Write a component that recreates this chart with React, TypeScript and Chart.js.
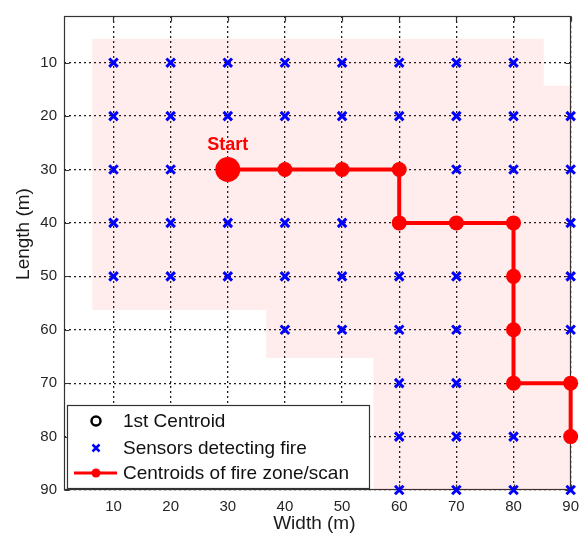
import { useEffect, useRef } from "react";
import { Chart, registerables } from "chart.js";

Chart.register(...registerables);

// ---- data ----
const tickValues = [10, 20, 30, 40, 50, 60, 70, 80, 90];
const xRange = [1.34, 90];
const yRange = [1.26, 90];

// Sensors detecting fire: one row per y value, with the x values in that row
const sensorRowY = [10, 20, 30, 40, 50, 60, 70, 80, 90];
const sensorRowX = [
  [10, 20, 30, 40, 50, 60, 70, 80],
  [10, 20, 30, 40, 50, 60, 70, 80, 90],
  [10, 20, 30, 40, 50, 60, 70, 80, 90],
  [10, 20, 30, 40, 50, 60, 70, 80, 90],
  [10, 20, 30, 40, 50, 60, 70, 80, 90],
  [40, 50, 60, 70, 80, 90],
  [60, 70, 80, 90],
  [60, 70, 80, 90],
  [60, 70, 80, 90],
];

// Centroids of fire zone / scan
const pathX = [30, 40, 50, 60, 60, 70, 80, 80, 80, 80, 90, 90];
const pathY = [30, 30, 30, 30, 40, 40, 40, 50, 60, 70, 70, 80];

// 1st centroid
const startX = [30];
const startY = [30];

// Fire zone outline
const zoneX = [6.3, 85.3, 85.3, 92, 92, 55.5, 55.5, 36.7, 36.7, 6.3, 6.3];
const zoneY = [5.5, 5.5, 14.3, 14.3, 92, 92, 65.3, 65.3, 56.3, 56.3, 5.5];

const legendLabels = ["1st Centroid", "Sensors detecting fire", "Centroids of fire zone/scan"];
const xTitle = "Width (m)";
const yTitle = "Length (m)";
const startText = "Start";

const FONT = '"Liberation Sans", Arial, Helvetica, sans-serif';

const decorPlugin = {
  id: "decor",
  beforeDatasetsDraw(chart: any) {
    const { ctx, chartArea: a, scales } = chart;
    const l = Math.round(a.left) + 0.5;
    const r = Math.round(a.right) - 0.5;
    const t = Math.round(a.top) + 0.5;
    const b = Math.round(a.bottom) - 0.5;
    ctx.save();
    ctx.strokeStyle = "#333";
    ctx.lineWidth = 1.2;
    ctx.setLineDash([]);
    ctx.strokeRect(l, t, r - l, b - t);
    ctx.beginPath();
    for (const v of tickValues) {
      const px = Math.round(scales.x.getPixelForValue(v)) + 0.5;
      ctx.moveTo(px, b);
      ctx.lineTo(px, b - 5);
      ctx.moveTo(px, t);
      ctx.lineTo(px, t + 5);
      const py = Math.round(scales.y.getPixelForValue(v)) + 0.5;
      ctx.moveTo(l, py);
      ctx.lineTo(l + 5, py);
      ctx.moveTo(r, py);
      ctx.lineTo(r - 5, py);
    }
    ctx.stroke();
    ctx.restore();
  },
  afterDraw(chart: any) {
    const { ctx, chartArea: a, scales } = chart;
    ctx.save();
    // Start label
    ctx.fillStyle = "#ff0000";
    ctx.font = `bold 18px ${FONT}`;
    ctx.textAlign = "center";
    ctx.textBaseline = "alphabetic";
    ctx.fillText(
      startText,
      scales.x.getPixelForValue(startX[0]),
      scales.y.getPixelForValue(startY[0]) - 20
    );

    // axis titles
    ctx.fillStyle = "#1a1a1a";
    ctx.font = `19px ${FONT}`;
    ctx.fillText(xTitle, (a.left + a.right) / 2 - 3, 529);
    ctx.save();
    ctx.translate(29, 234);
    ctx.rotate(-Math.PI / 2);
    ctx.fillText(yTitle, 0, 0);
    ctx.restore();

    // legend
    const bx = a.left + 3.5;
    const by = 405.5;
    const bw = 302;
    const bh = 83;
    ctx.fillStyle = "#ffffff";
    ctx.fillRect(bx, by, bw, bh);
    ctx.strokeStyle = "#333";
    ctx.lineWidth = 1.2;
    ctx.strokeRect(bx, by, bw, bh);

    const symX = 96;
    const rows = [421, 448, 473];
    // open black circle
    ctx.strokeStyle = "#000";
    ctx.lineWidth = 2.5;
    ctx.beginPath();
    ctx.arc(symX, rows[0], 4.5, 0, Math.PI * 2);
    ctx.stroke();
    // blue cross
    ctx.strokeStyle = "#0000ff";
    ctx.lineWidth = 2.5;
    ctx.beginPath();
    ctx.moveTo(symX - 3.5, rows[1] - 3.5);
    ctx.lineTo(symX + 3.5, rows[1] + 3.5);
    ctx.moveTo(symX + 3.5, rows[1] - 3.5);
    ctx.lineTo(symX - 3.5, rows[1] + 3.5);
    ctx.stroke();
    // red line with dot
    ctx.strokeStyle = "#ff0000";
    ctx.lineWidth = 3;
    ctx.beginPath();
    ctx.moveTo(74, rows[2]);
    ctx.lineTo(117, rows[2]);
    ctx.stroke();
    ctx.fillStyle = "#ff0000";
    ctx.beginPath();
    ctx.arc(symX, rows[2], 4.5, 0, Math.PI * 2);
    ctx.fill();

    ctx.fillStyle = "#111";
    ctx.font = `19px ${FONT}`;
    ctx.textAlign = "left";
    ctx.textBaseline = "middle";
    legendLabels.forEach((lab, i) => ctx.fillText(lab, 123, rows[i] + 1));
    ctx.restore();
  },
};

export default function App() {
  const ref = useRef<HTMLCanvasElement | null>(null);

  useEffect(() => {
    if (!ref.current) return;
    const sensors: { x: number; y: number }[] = [];
    sensorRowY.forEach((y, i) => sensorRowX[i].forEach((x) => sensors.push({ x, y })));
    const path = pathX.map((x, i) => ({ x, y: pathY[i] }));
    const start = startX.map((x, i) => ({ x, y: startY[i] }));
    const zone = zoneX.map((x, i) => ({ x, y: zoneY[i] }));

    const gridOpts = {
      color: "#1e1e1e",
      lineWidth: 1.3,
      drawTicks: false,
      borderDash: [2, 3],
    };

    const chart = new Chart(ref.current, {
      type: "scatter",
      data: {
        datasets: [
          {
            label: "zone",
            data: zone,
            showLine: true,
            fill: "shape",
            backgroundColor: "rgba(255,0,0,0.07)",
            borderColor: "rgba(0,0,0,0)",
            borderWidth: 0,
            pointRadius: 0,
            tension: 0,
            order: 4,
          } as any,
          {
            label: legendLabels[1],
            data: sensors,
            pointStyle: "crossRot",
            pointRadius: 6,
            borderColor: "#0000ff",
            backgroundColor: "#0000ff",
            borderWidth: 3,
            clip: false,
            order: 3,
          } as any,
          {
            label: legendLabels[2],
            data: path,
            showLine: true,
            borderColor: "#ff0000",
            backgroundColor: "#ff0000",
            borderWidth: 4,
            pointRadius: 7.5,
            pointBorderWidth: 0,
            pointBackgroundColor: "#ff0000",
            tension: 0,
            clip: false,
            order: 2,
          } as any,
          {
            label: legendLabels[0],
            data: start,
            pointRadius: 12.5,
            pointBorderWidth: 0,
            pointBackgroundColor: "#ff0000",
            backgroundColor: "#ff0000",
            clip: false,
            order: 1,
          } as any,
        ],
      },
      options: {
        responsive: false,
        animation: false,
        layout: { padding: { top: 12, right: 5, left: 0, bottom: 0 } },
        plugins: {
          legend: { display: false },
          tooltip: { enabled: false },
        },
        scales: {
          x: {
            type: "linear",
            min: xRange[0],
            max: xRange[1],
            afterBuildTicks: (s: any) => {
              s.ticks = tickValues.map((v) => ({ value: v }));
            },
            afterFit: (s: any) => {
              s.height = 46;
            },
            grid: gridOpts as any,
            border: { display: false, dash: [2, 3] },
            ticks: {
              padding: 8,
              color: "#262626",
              font: { family: FONT, size: 15 },
              maxRotation: 0,
            },
          },
          y: {
            type: "linear",
            reverse: true,
            min: yRange[0],
            max: yRange[1],
            afterBuildTicks: (s: any) => {
              s.ticks = tickValues.map((v) => ({ value: v }));
            },
            afterFit: (s: any) => {
              s.width = 64;
            },
            grid: gridOpts as any,
            border: { display: false, dash: [2, 3] },
            ticks: {
              padding: 7,
              color: "#262626",
              font: { family: FONT, size: 15 },
            },
          },
        },
      } as any,
      plugins: [decorPlugin],
    });
    return () => chart.destroy();
  }, []);

  return (
    <div style={{ position: "absolute", left: 0, top: 0, width: 587, height: 536, background: "#fff" }}>
      <canvas ref={ref} width={587} height={536} style={{ display: "block" }} />
    </div>
  );
}
